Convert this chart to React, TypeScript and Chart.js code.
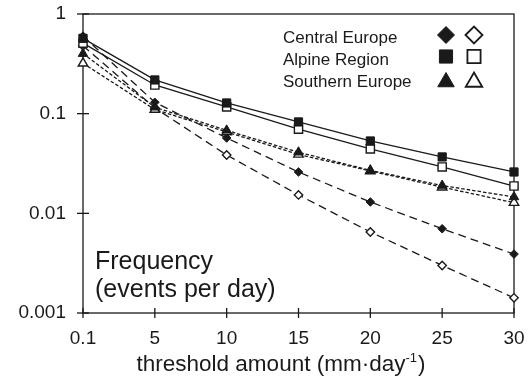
import React, { useEffect, useRef } from 'react';
import { Chart, registerables } from 'chart.js';

Chart.register(...registerables);

const thresholds = ['0.1', '5', '10', '15', '20', '25', '30'];
const centralFilled = [0.6, 0.13, 0.057, 0.026, 0.013, 0.007, 0.0039];
const centralOpen = [0.48, 0.114, 0.0385, 0.0153, 0.0065, 0.003, 0.00142];
const alpineFilled = [0.57, 0.218, 0.128, 0.0826, 0.0532, 0.0368, 0.026];
const alpineOpen = [0.51, 0.194, 0.117, 0.07, 0.0443, 0.0292, 0.0188];
const southernFilled = [0.4, 0.116, 0.068, 0.041, 0.027, 0.019, 0.0146];
const southernOpen = [0.32, 0.11, 0.0655, 0.039, 0.0266, 0.0183, 0.0128];
const yTicks = [1, 0.1, 0.01, 0.001];
const regionNames = ['Central Europe', 'Alpine Region', 'Southern Europe'];
const regionMarkers = ['rectRot', 'rect', 'triangle'];
const yTitleLines = ['Frequency', '(events per day)'];
const xTitleMain = 'threshold amount (mm·day';
const xTitleSup = '-1';
const xTitleEnd = ')';

const FONT = '"Liberation Sans", Arial, Helvetica, sans-serif';
const INK = '#1a1a1a';

function drawMarker(ctx: CanvasRenderingContext2D, style: string, x: number, y: number, r: number, filled: boolean) {
  ctx.beginPath();
  if (style === 'rectRot') {
    ctx.moveTo(x - r, y);
    ctx.lineTo(x, y - r);
    ctx.lineTo(x + r, y);
    ctx.lineTo(x, y + r);
  } else if (style === 'rect') {
    const s = r * Math.SQRT1_2;
    ctx.rect(x - s, y - s, 2 * s, 2 * s);
  } else {
    for (let k = 0; k < 3; k++) {
      const ang = (k * 2 * Math.PI) / 3;
      const px = x + Math.sin(ang) * r;
      const py = y - Math.cos(ang) * r;
      if (k === 0) ctx.moveTo(px, py);
      else ctx.lineTo(px, py);
    }
  }
  ctx.closePath();
  ctx.fillStyle = filled ? INK : '#ffffff';
  ctx.fill();
  ctx.strokeStyle = INK;
  ctx.lineWidth = filled ? 1 : 1.8;
  ctx.stroke();
}

const decorPlugin = {
  id: 'decor',
  beforeDatasetsDraw(chart: any) {
    const { ctx, chartArea: a, scales } = chart;
    ctx.save();
    ctx.strokeStyle = INK;
    ctx.lineWidth = 1.3;
    ctx.strokeRect(a.left, a.top, a.right - a.left, a.bottom - a.top);
    scales.x.ticks.forEach((_t: any, i: number) => {
      const px = scales.x.getPixelForTick(i);
      ctx.beginPath();
      ctx.moveTo(px, a.bottom - 5);
      ctx.lineTo(px, a.bottom + 5);
      ctx.stroke();
    });
    yTicks.forEach((v) => {
      const py = scales.y.getPixelForValue(v);
      ctx.beginPath();
      ctx.moveTo(a.left - 6, py);
      ctx.lineTo(a.left + 6, py);
      ctx.stroke();
    });
    ctx.restore();
  },
};

const textPlugin = {
  id: 'texts',
  afterDraw(chart: any) {
    const { ctx } = chart;
    ctx.save();
    ctx.fillStyle = INK;
    ctx.textBaseline = 'alphabetic';
    ctx.textAlign = 'left';
    ctx.font = `17px ${FONT}`;
    const baselines = [43, 65, 87];
    const centers = [35, 56.5, 82];
    const radii = [8.5, 9.3, 9.5];
    regionNames.forEach((name, i) => {
      ctx.fillStyle = INK;
      ctx.fillText(name, 283, baselines[i]);
      drawMarker(ctx, regionMarkers[i], 446, centers[i], radii[i], true);
      drawMarker(ctx, regionMarkers[i], 474, centers[i], radii[i], false);
    });
    ctx.fillStyle = INK;
    ctx.font = `25px ${FONT}`;
    ctx.fillText(yTitleLines[0], 95, 269);
    ctx.fillText(yTitleLines[1], 95, 297);
    const mainFont = `22.5px ${FONT}`;
    const supFont = `13px ${FONT}`;
    ctx.font = mainFont;
    const w1 = ctx.measureText(xTitleMain).width;
    const w3 = ctx.measureText(xTitleEnd).width;
    ctx.font = supFont;
    const w2 = ctx.measureText(xTitleSup).width;
    const total = w1 + w2 + w3 + 1;
    const cx = 281;
    let x0 = cx - total / 2;
    const base = 371;
    ctx.font = mainFont;
    ctx.fillText(xTitleMain, x0, base);
    x0 += w1;
    ctx.font = supFont;
    ctx.fillText(xTitleSup, x0, base - 9);
    x0 += w2 + 1;
    ctx.font = mainFont;
    ctx.fillText(xTitleEnd, x0, base);
    ctx.restore();
  },
};

function makeSet(data: number[], style: string, filled: boolean, dash: number[], r: number) {
  return {
    data,
    borderColor: INK,
    borderWidth: 1.3,
    borderDash: dash,
    pointStyle: style,
    pointRadius: r,
    pointBackgroundColor: filled ? INK : '#ffffff',
    pointBorderColor: INK,
    pointBorderWidth: filled ? 1 : 1.4,
    fill: false,
    tension: 0,
    clip: false,
  };
}

export default function App() {
  const ref = useRef<HTMLCanvasElement | null>(null);
  useEffect(() => {
    if (!ref.current) return;
    const longDash = [8, 5];
    const shortDash = [3.5, 2];
    const chart = new Chart(ref.current, {
      type: 'line',
      data: {
        labels: thresholds,
        datasets: [
          makeSet(alpineFilled, 'rect', true, [], 5.8),
          makeSet(alpineOpen, 'rect', false, [], 5.8),
          makeSet(southernFilled, 'triangle', true, shortDash, 5.5),
          makeSet(southernOpen, 'triangle', false, shortDash, 5.5),
          makeSet(centralFilled, 'rectRot', true, longDash, 4.3),
          makeSet(centralOpen, 'rectRot', false, longDash, 4.2),
        ] as any,
      },
      options: {
        animation: false,
        responsive: true,
        maintainAspectRatio: false,
        layout: { padding: { top: 14, right: 16, left: 0, bottom: 0 } },
        plugins: { legend: { display: false }, tooltip: { enabled: false }, title: { display: false } },
        scales: {
          x: {
            type: 'category',
            offset: false,
            grid: { display: false },
            border: { display: false },
            ticks: { color: INK, font: { family: FONT, size: 19 }, padding: 6, maxRotation: 0, autoSkip: false },
            afterFit: (s: any) => {
              s.height = 69;
              s.paddingLeft = 0;
              s.paddingRight = 0;
            },
          },
          y: {
            type: 'logarithmic',
            min: 0.001,
            max: 1,
            grid: { display: false },
            border: { display: false },
            afterBuildTicks: (s: any) => { s.ticks = yTicks.map((v) => ({ value: v })); },
            ticks: {
              color: INK,
              font: { family: FONT, size: 19 },
              padding: 9,
              callback: (v: any) => String(v),
            },
            afterFit: (s: any) => {
              s.width = 83;
              s.paddingTop = 0;
              s.paddingBottom = 0;
            },
          },
        },
      },
      plugins: [decorPlugin, textPlugin],
    } as any);
    return () => chart.destroy();
  }, []);
  return (
    <div style={{ position: 'fixed', left: 0, top: 0, width: 530, height: 382, background: '#fff' }}>
      <canvas ref={ref} />
    </div>
  );
}
